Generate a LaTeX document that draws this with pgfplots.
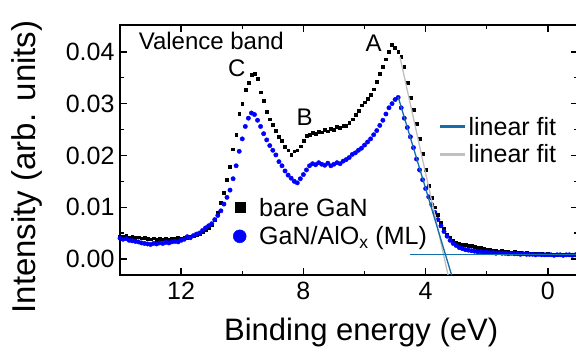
\documentclass[border=0pt]{standalone}
\usepackage{pgfplots}
\pgfplotsset{compat=1.18}
\usepackage{pgfplotstable}
\usepackage{fontspec}
\setmainfont{Liberation Sans}
\definecolor{fitblue}{RGB}{20,110,170}
\definecolor{fitgray}{RGB}{192,192,192}

\pgfplotstableread{
E I
14.0 0.0044
13.9 0.0043
13.8 0.0045
13.7 0.0042
13.6 0.0043
13.5 0.0041
13.4 0.0042
13.3 0.0040
13.2 0.0041
13.1 0.0039
13.0 0.0038
12.9 0.0040
12.8 0.0037
12.7 0.0039
12.6 0.0038
12.5 0.0039
12.4 0.0037
12.3 0.0040
12.2 0.0039
12.1 0.0041
12.0 0.0040
11.9 0.0042
11.8 0.0041
11.7 0.0044
11.6 0.0045
11.5 0.0047
11.4 0.0049
11.3 0.0052
11.2 0.0056
11.1 0.0060
11.0 0.0066
10.9 0.0076
10.8 0.0089
10.7 0.0108
10.6 0.0128
10.5 0.0153
10.4 0.0178
10.3 0.0212
10.2 0.0240
10.1 0.0280
10.0 0.0300
9.9 0.0327
9.8 0.0340
9.7 0.0356
9.6 0.0358
9.5 0.0348
9.4 0.0322
9.3 0.0305
9.2 0.0285
9.1 0.0270
9.0 0.0259
8.9 0.0248
8.8 0.0236
8.7 0.0228
8.6 0.0217
8.5 0.0210
8.4 0.0202
8.3 0.0208
8.2 0.0210
8.1 0.0218
8.0 0.0229
7.9 0.0238
7.8 0.0240
7.7 0.0244
7.6 0.0242
7.5 0.0246
7.4 0.0245
7.3 0.0249
7.2 0.0247
7.1 0.0252
7.0 0.0250
6.9 0.0255
6.8 0.0253
6.7 0.0258
6.6 0.0257
6.5 0.0264
6.4 0.0270
6.3 0.0278
6.2 0.0287
6.1 0.0297
6.0 0.0303
5.9 0.0310
5.8 0.0318
5.7 0.0328
5.6 0.0343
5.5 0.0358
5.4 0.0372
5.3 0.0386
5.2 0.0400
5.1 0.0414
5.0 0.0408
4.9 0.0400
4.8 0.0391
4.7 0.0372
4.6 0.0340
4.5 0.0312
4.4 0.0288
4.3 0.0262
4.2 0.0232
4.1 0.0203
4.0 0.0172
3.9 0.0142
3.8 0.0118
3.7 0.0100
3.6 0.0085
3.5 0.0070
3.4 0.0058
3.3 0.0048
3.2 0.0041
3.1 0.0035
3.0 0.0032
2.9 0.0030
2.8 0.0028
2.7 0.0027
2.6 0.0025
2.5 0.0026
2.4 0.0023
2.3 0.0022
2.2 0.0021
2.1 0.0020
2.0 0.0019
1.9 0.0018
1.8 0.0017
1.7 0.0017
1.6 0.0015
1.5 0.0016
1.4 0.0014
1.3 0.0014
1.2 0.0013
1.1 0.0014
1.0 0.0012
0.9 0.0012
0.8 0.0011
0.7 0.0012
0.6 0.0011
0.5 0.0010
0.4 0.0011
0.3 0.0010
0.2 0.0010
0.1 0.0009
0.0 0.0010
-0.1 0.0009
-0.2 0.0009
-0.3 0.0008
-0.4 0.0009
-0.5 0.0008
-0.6 0.0009
-0.7 0.0008
-0.8 0.0008
-0.9 0.0008
}\bare

\pgfplotstableread{
E I
14.0 0.0040
13.9 0.0038
13.8 0.0039
13.7 0.0036
13.6 0.0035
13.5 0.0034
13.4 0.0033
13.3 0.0031
13.2 0.0030
13.1 0.0029
13.0 0.0028
12.9 0.0030
12.8 0.0029
12.7 0.0031
12.6 0.0030
12.5 0.0032
12.4 0.0031
12.3 0.0033
12.2 0.0034
12.1 0.0033
12.0 0.0036
11.9 0.0038
11.8 0.0043
11.7 0.0041
11.6 0.0045
11.5 0.0048
11.4 0.0050
11.3 0.0055
11.2 0.0060
11.1 0.0064
11.0 0.0068
10.9 0.0076
10.8 0.0084
10.7 0.0093
10.6 0.0106
10.5 0.0119
10.4 0.0133
10.3 0.0155
10.2 0.0180
10.1 0.0208
10.0 0.0232
9.9 0.0256
9.8 0.0272
9.7 0.0282
9.6 0.0279
9.5 0.0268
9.4 0.0256
9.3 0.0242
9.2 0.0230
9.1 0.0219
9.0 0.0210
8.9 0.0201
8.8 0.0188
8.7 0.0180
8.6 0.0170
8.5 0.0162
8.4 0.0156
8.3 0.0150
8.2 0.0147
8.1 0.0155
8.0 0.0163
7.9 0.0172
7.8 0.0180
7.7 0.0184
7.6 0.0182
7.5 0.0186
7.4 0.0183
7.3 0.0181
7.2 0.0185
7.1 0.0180
7.0 0.0183
6.9 0.0186
6.8 0.0184
6.7 0.0189
6.6 0.0192
6.5 0.0196
6.4 0.0202
6.3 0.0205
6.2 0.0210
6.1 0.0214
6.0 0.0220
5.9 0.0226
5.8 0.0232
5.7 0.0240
5.6 0.0248
5.5 0.0258
5.4 0.0268
5.3 0.0280
5.2 0.0292
5.1 0.0300
5.0 0.0308
4.9 0.0312
4.8 0.0292
4.7 0.0272
4.6 0.0254
4.5 0.0236
4.4 0.0215
4.3 0.0193
4.2 0.0172
4.1 0.0153
4.0 0.0136
3.9 0.0120
3.8 0.0105
3.7 0.0090
3.6 0.0076
3.5 0.0064
3.4 0.0053
3.3 0.0044
3.2 0.0036
3.1 0.0030
3.0 0.0026
2.9 0.0022
2.8 0.0020
2.7 0.0018
2.6 0.0017
2.5 0.0016
2.4 0.0015
2.3 0.0014
2.2 0.0014
2.1 0.0013
2.0 0.0013
1.9 0.0012
1.8 0.0012
1.7 0.0011
1.6 0.0012
1.5 0.0011
1.4 0.0011
1.3 0.0010
1.2 0.0011
1.1 0.0010
1.0 0.0010
0.9 0.0009
0.8 0.0010
0.7 0.0009
0.6 0.0009
0.5 0.0009
0.4 0.0008
0.3 0.0009
0.2 0.0008
0.1 0.0008
0.0 0.0008
-0.1 0.0008
-0.2 0.0007
-0.3 0.0008
-0.4 0.0008
-0.5 0.0007
-0.6 0.0008
-0.7 0.0008
-0.8 0.0007
-0.9 0.0008
}\alox

\begin{document}
\begin{tikzpicture}
\pgfplotsset{
  common/.style={
    scale only axis, width=458.5pt, height=250pt,
    x dir=reverse, xmin=-1, xmax=14, ymin=-0.0031, ymax=0.0452,
  }
}
\begin{axis}[common,
  name=main,
  axis line style={line width=1.4pt},
  every tick/.style={line width=1.3pt, black},
  major tick length=7pt, minor tick length=4pt,
  xtick={0,4,8,12}, minor xtick={2,6,10},
  ytick={0,0.01,0.02,0.03,0.04}, minor ytick={0.005,0.015,0.025,0.035},
  yticklabels={0.00,0.01,0.02,0.03,0.04},
  scaled y ticks=false,
  /pgf/number format/assume math mode=true,
  tick label style={font=\fontsize{25}{30}\selectfont},
  xticklabel style={yshift=-4pt},
  yticklabel style={xshift=-2pt},
  xlabel={Binding energy (eV)},
  ylabel={Intensity (arb. units)},
  xlabel style={font=\fontsize{31}{36}\selectfont, at={(axis description cs:0.526,0)}, anchor=base, yshift=-65pt},
  ylabel style={font=\fontsize{33}{38}\selectfont, at={(axis description cs:0,0.432)}, anchor=base, yshift=84pt},
  legend style={draw=none, fill=none, font=\fontsize{25}{30}\selectfont,
    at={(axis description cs:0.24,0.212)}, anchor=west, row sep=5pt},
  legend cell align=left,
]
\addplot[only marks, mark=square*, mark size=1.4pt, black, forget plot] table[x=E,y=I] {\bare};
\addplot[only marks, mark=*, mark size=2.2pt, blue, forget plot] table[x=E,y=I] {\alox};
\addlegendimage{only marks, mark=square*, mark size=5pt, black}
\addlegendentry{\hspace{11pt}bare GaN}
\addlegendimage{only marks, mark=*, mark size=6.5pt, blue}
\addlegendentry{\hspace{11pt}GaN/AlO\textsubscript{x} (ML)}
\node[anchor=base west, font=\fontsize{24}{28}\selectfont] at (axis cs:13.5,0.0404) {Valence band};
\node[anchor=base, font=\fontsize{24}{28}\selectfont] at (axis cs:10.18,0.0352) {C};
\node[anchor=base, font=\fontsize{24}{28}\selectfont] at (axis cs:7.96,0.0257) {B};
\node[anchor=base, font=\fontsize{24}{28}\selectfont] at (axis cs:5.70,0.0400) {A};
\end{axis}
\begin{axis}[common, hide axis,
  legend style={draw=none, fill=none, font=\fontsize{25}{30}\selectfont,
    at={(axis description cs:0.688,0.538)}, anchor=west, row sep=4pt},
  legend cell align=left,
  legend image code/.code={\draw[#1] (0pt,0pt) -- (25pt,0pt);},
]
\addplot[fitgray, line width=1.3pt, forget plot] coordinates {(4.84,0.0390) (3.10,-0.0076)};
\addplot[fitblue, line width=1.3pt, forget plot] coordinates {(4.90,0.0313) (3.00,-0.0061)};
\addplot[fitblue, line width=1.3pt, forget plot] coordinates {(4.50,0.0008) (-1,0.0008)};
\addlegendimage{fitblue, line width=3pt}
\addlegendentry{linear fit}
\addlegendimage{fitgray, line width=3pt}
\addlegendentry{linear fit}
\end{axis}
\pgfresetboundingbox
\path (main.south west) ++(-120pt,-73pt) coordinate (bl);
\path (main.north west) ++(456pt,25pt) coordinate (tr);
\path[use as bounding box] (bl) rectangle (tr);
\end{tikzpicture}
\end{document}
